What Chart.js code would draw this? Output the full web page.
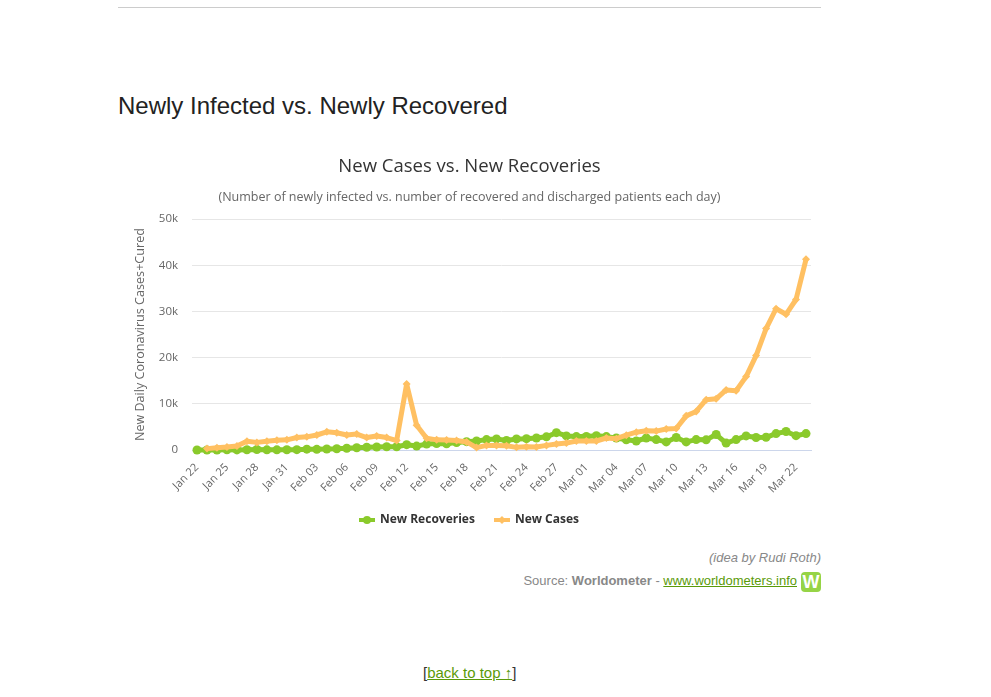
<!DOCTYPE html>
<html>
<head>
<meta charset="utf-8">
<script src="https://cdn.jsdelivr.net/npm/chart.js@4"></script>
<style>
  html, body { margin: 0; padding: 0; background: #fff; width: 991px; height: 697px; overflow: hidden; font-family: "Liberation Sans", Arial, sans-serif; }
  hr { position: absolute; left: 118px; top: 7px; width: 703px; margin: 0; border: 0; border-top: 1px solid #ccc; }
  h2 { position: absolute; left: 118px; top: 92px; margin: 0; font-size: 24px; line-height: 28px; font-weight: 400; color: #222; }
  #wrap { position: absolute; left: 118px; top: 150px; width: 703px; height: 386px; }
  .credit { position: absolute; right: 170px; text-align: right; font-size: 13px; color: #888; white-space: nowrap; }
  a { color: #5a9a08; text-decoration: underline; }
  #logo { position: absolute; left: 801px; top: 572px; width: 20px; height: 20px; border-radius: 4px; background: #96d446; color: #fff; font: bold 18px/20px "Liberation Sans"; text-align: center; }
  #top { position: absolute; left: 423px; top: 664px; font-size: 15px; line-height: 18px; color: #333; white-space: nowrap; }
</style>
</head>
<body>
<hr>
<h2>Newly Infected vs. Newly Recovered</h2>
<div id="wrap"><canvas id="chart"></canvas></div>
<div class="credit" style="top:550px"><i>(idea by Rudi Roth)</i></div>
<div class="credit" style="top:573px; right:194px">Source: <b>Worldometer</b> - <a href="#">www.worldometers.info</a></div>
<div id="logo">W</div>
<div id="top">[<a href="#">back to top ↑</a>]</div>
<script>
const days = [
  "Jan 22","Jan 23","Jan 24","Jan 25","Jan 26","Jan 27","Jan 28","Jan 29","Jan 30","Jan 31",
  "Feb 01","Feb 02","Feb 03","Feb 04","Feb 05","Feb 06","Feb 07","Feb 08","Feb 09","Feb 10",
  "Feb 11","Feb 12","Feb 13","Feb 14","Feb 15","Feb 16","Feb 17","Feb 18","Feb 19","Feb 20",
  "Feb 21","Feb 22","Feb 23","Feb 24","Feb 25","Feb 26","Feb 27","Feb 28","Feb 29",
  "Mar 01","Mar 02","Mar 03","Mar 04","Mar 05","Mar 06","Mar 07","Mar 08","Mar 09","Mar 10",
  "Mar 11","Mar 12","Mar 13","Mar 14","Mar 15","Mar 16","Mar 17","Mar 18","Mar 19","Mar 20",
  "Mar 21","Mar 22","Mar 23"
];
const newRecoveries = [
  0, 10, 10, 30, 20, 60, 100, 40, 40, 60,
  80, 180, 150, 210, 260, 380, 480, 600, 640, 700,
  700, 1150, 850, 1280, 1400, 1350, 1600, 1800, 1950, 2250,
  2400, 2050, 2400, 2450, 2600, 2850, 3750, 3050, 2900,
  2950, 3100, 2900, 2600, 2200, 1950, 2600, 2250, 1750, 2700,
  1750, 2250, 2200, 3350, 1500, 2250, 3050, 2700, 2750, 3550,
  4000, 3100, 3550
];
const newCases = [
  null, 300, 500, 650, 850, 1900, 1650, 1900, 2100, 2200,
  2700, 2850, 3250, 3950, 3750, 3250, 3450, 2700, 3050, 2700,
  2050, 14300, 5350, 2550, 2200, 2150, 2050, 1750, 520, 1000,
  1000, 900, 570, 720, 650, 1000, 1300, 1500, 1950,
  1950, 1950, 2600, 2450, 3200, 3850, 4150, 4100, 4550, 4650,
  7400, 8350, 10900, 11100, 13000, 12850, 15900, 20450, 26300, 30600,
  29400, 32600, 41300
];
const yTicks = [0, 10000, 20000, 30000, 40000, 50000];

const green = "#8aca2b";
const orange = "#ffc062";
const labelFont = '"Open Sans", sans-serif';

// little line+marker swatch for the legend
function swatch(color, diamond) {
  const c = document.createElement("canvas");
  c.width = 16;
  c.height = 10;
  const g = c.getContext("2d");
  g.fillStyle = color;
  g.fillRect(0, 3, 16, 4);
  g.beginPath();
  if (diamond) {
    g.moveTo(8, 1); g.lineTo(12, 5); g.lineTo(8, 9); g.lineTo(4, 5);
  } else {
    g.arc(8, 5, 4, 0, Math.PI * 2);
  }
  g.fill();
  return c;
}

new Chart(document.getElementById("chart"), {
  type: "line",
  data: {
    labels: days,
    datasets: [
      {
        label: "New Recoveries", data: newRecoveries, order: 1, clip: false,
        borderColor: green, backgroundColor: green, borderWidth: 5, borderJoinStyle: "round",
        pointStyle: "circle", pointRadius: 4.5, pointBorderWidth: 0, tension: 0,
      },
      {
        label: "New Cases", data: newCases, order: 0, clip: false,
        borderColor: orange, backgroundColor: orange, borderWidth: 5, borderJoinStyle: "round",
        pointStyle: "rectRot", pointRadius: 4, pointBorderWidth: 0, tension: 0,
      },
    ],
  },
  options: {
    responsive: true,
    maintainAspectRatio: false,
    animation: false,
    layout: { padding: { right: 10, left: 10, top: 0, bottom: 0 } },
    plugins: {
      title: {
        display: true, text: "New Cases vs. New Recoveries", color: "#333",
        font: { family: labelFont, size: 18.5, weight: "400" }, padding: { top: 6, bottom: 12 },
      },
      subtitle: {
        display: true, text: "(Number of newly infected vs. number of recovered and discharged patients each day)",
        color: "#666", font: { family: labelFont, size: 12.5 }, padding: { bottom: 14 },
      },
      legend: {
        position: "bottom",
        labels: {
          usePointStyle: true, pointStyleWidth: 14, boxHeight: 10, padding: 20, color: "#333",
          font: { family: labelFont, size: 12, weight: "700" },
          generateLabels: (chart) => chart.data.datasets.map((d, i) => ({
            text: d.label, fontColor: "#333", datasetIndex: i, hidden: false,
            pointStyle: swatch(d.borderColor, i === 1),
          })),
        },
      },
      tooltip: { enabled: false },
    },
    scales: {
      x: {
        offset: true,
        afterFit(axis) { axis.height = 44; },
        grid: { display: false },
        border: { display: true, color: "#ccd6eb" },
        ticks: {
          autoSkip: false, minRotation: 45, maxRotation: 45, color: "#666", padding: 3,
          font: { family: labelFont, size: 11 },
          callback(value, index) { return index % 3 === 0 ? this.getLabelForValue(value) : null; },
        },
      },
      y: {
        min: 0, max: 50000,
        afterBuildTicks(axis) { axis.ticks = yTicks.map((value) => ({ value })); },
        afterFit(axis) { axis.width = 64; },
        grid: { color: "#e6e6e6", drawTicks: false },
        border: { display: false },
        title: {
          display: true, text: "New Daily Coronavirus Cases+Cured", color: "#666",
          font: { family: labelFont, size: 12.6 }, padding: { top: 5, bottom: 0 },
        },
        ticks: {
          color: "#666", padding: 14, font: { family: labelFont, size: 11.5 },
          callback: (v) => (v === 0 ? "0" : v / 1000 + "k"),
        },
      },
    },
  },
});
</script>
</body>
</html>
